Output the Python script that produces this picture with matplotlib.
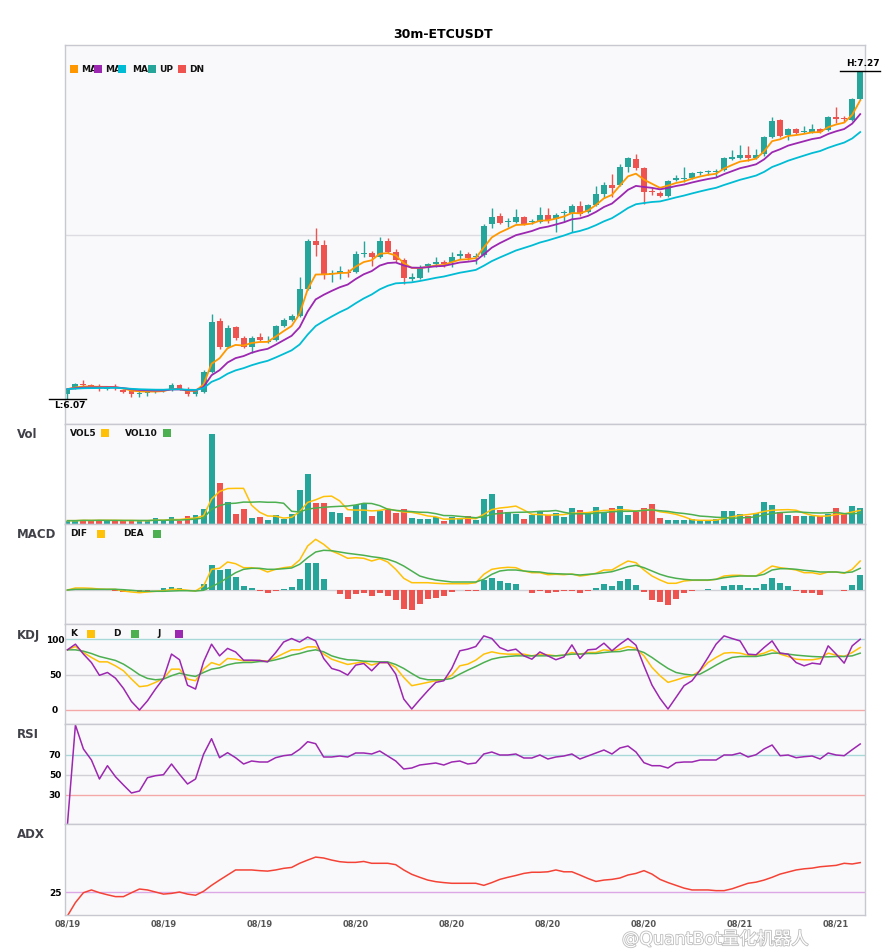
import matplotlib
matplotlib.use("Agg")
import matplotlib.pyplot as plt
import matplotlib.patheffects as pe
import numpy as np
import pandas as pd
from matplotlib.patches import Rectangle
from matplotlib.transforms import Bbox, TransformedBbox

W, H = 885, 950

symbol = "30m-ETCUSDT"
tick_labels = ["08/19", "08/19", "08/19", "08/20", "08/20", "08/20", "08/20", "08/21", "08/21"]

opens = [6.085, 6.108, 6.122, 6.118, 6.112, 6.102, 6.110, 6.099, 6.096, 6.086,
         6.087, 6.093, 6.098, 6.099, 6.118, 6.099, 6.084, 6.093, 6.167, 6.353,
         6.258, 6.329, 6.291, 6.256, 6.295, 6.276, 6.283, 6.335, 6.356, 6.372,
         6.470, 6.646, 6.632, 6.527, 6.528, 6.532, 6.531, 6.600, 6.603, 6.589,
         6.647, 6.605, 6.576, 6.510, 6.511, 6.557, 6.562, 6.570, 6.568, 6.594,
         6.598, 6.586, 6.595, 6.707, 6.738, 6.716, 6.717, 6.733, 6.716, 6.717,
         6.742, 6.726, 6.749, 6.750, 6.775, 6.754, 6.778, 6.819, 6.852, 6.852,
         6.919, 6.947, 6.913, 6.828, 6.823, 6.811, 6.870, 6.876, 6.876, 6.896,
         6.899, 6.899, 6.907, 6.949, 6.950, 6.962, 6.950, 6.964, 7.027, 7.090,
         7.035, 7.056, 7.046, 7.044, 7.056, 7.054, 7.100, 7.096, 7.090, 7.166]
highs = [6.107, 6.125, 6.136, 6.121, 6.121, 6.114, 6.120, 6.103, 6.099, 6.099,
         6.099, 6.099, 6.103, 6.125, 6.121, 6.109, 6.098, 6.173, 6.378, 6.362,
         6.338, 6.334, 6.298, 6.298, 6.307, 6.298, 6.338, 6.364, 6.378, 6.513,
         6.654, 6.695, 6.650, 6.540, 6.554, 6.542, 6.609, 6.647, 6.609, 6.662,
         6.657, 6.617, 6.584, 6.530, 6.558, 6.564, 6.586, 6.576, 6.605, 6.613,
         6.604, 6.601, 6.709, 6.766, 6.748, 6.730, 6.763, 6.738, 6.727, 6.772,
         6.766, 6.749, 6.760, 6.782, 6.793, 6.782, 6.848, 6.864, 6.892, 6.929,
         6.953, 6.965, 6.918, 6.840, 6.830, 6.870, 6.888, 6.919, 6.901, 6.904,
         6.907, 6.909, 6.953, 6.980, 6.999, 6.995, 6.983, 7.032, 7.102, 7.094,
         7.061, 7.059, 7.068, 7.076, 7.061, 7.105, 7.137, 7.105, 7.171, 7.270]
lows = [6.068, 6.103, 6.114, 6.107, 6.097, 6.099, 6.099, 6.090, 6.073, 6.073,
        6.077, 6.088, 6.092, 6.096, 6.099, 6.077, 6.077, 6.088, 6.162, 6.250,
        6.253, 6.283, 6.252, 6.236, 6.279, 6.271, 6.279, 6.331, 6.353, 6.367,
        6.466, 6.592, 6.507, 6.497, 6.506, 6.515, 6.529, 6.589, 6.554, 6.584,
        6.602, 6.570, 6.487, 6.499, 6.507, 6.534, 6.552, 6.552, 6.552, 6.580,
        6.578, 6.562, 6.587, 6.693, 6.707, 6.696, 6.711, 6.705, 6.709, 6.711,
        6.711, 6.680, 6.717, 6.680, 6.738, 6.749, 6.775, 6.803, 6.809, 6.848,
        6.901, 6.907, 6.782, 6.815, 6.808, 6.808, 6.866, 6.864, 6.874, 6.888,
        6.888, 6.882, 6.903, 6.943, 6.947, 6.941, 6.947, 6.958, 7.024, 7.029,
        7.017, 7.039, 7.043, 7.043, 7.044, 7.050, 7.078, 7.084, 7.087, 7.164]
closes = [6.103, 6.121, 6.120, 6.111, 6.110, 6.111, 6.109, 6.093, 6.084, 6.088,
          6.093, 6.094, 6.099, 6.118, 6.103, 6.084, 6.095, 6.167, 6.349, 6.256,
          6.327, 6.289, 6.258, 6.291, 6.283, 6.277, 6.334, 6.356, 6.372, 6.470,
          6.647, 6.632, 6.525, 6.528, 6.536, 6.531, 6.598, 6.602, 6.589, 6.647,
          6.607, 6.576, 6.509, 6.512, 6.546, 6.559, 6.568, 6.561, 6.589, 6.596,
          6.583, 6.591, 6.701, 6.733, 6.713, 6.718, 6.733, 6.709, 6.718, 6.742,
          6.723, 6.742, 6.751, 6.775, 6.745, 6.778, 6.819, 6.852, 6.840, 6.919,
          6.950, 6.913, 6.827, 6.826, 6.811, 6.866, 6.878, 6.877, 6.895, 6.898,
          6.901, 6.901, 6.950, 6.951, 6.962, 6.950, 6.962, 7.027, 7.088, 7.033,
          7.056, 7.041, 7.048, 7.056, 7.047, 7.100, 7.093, 7.094, 7.166, 7.268]
volumes = [3.3, 3.3, 4.2, 3.3, 4.2, 3.3, 3.3, 3.3, 3.3, 3.3,
           3.3, 5.6, 3.3, 6.5, 3.3, 7.8, 8.5, 14.4, 88.9, 40.8,
           22.2, 9.5, 14.4, 5.6, 6.5, 3.6, 8.5, 4.9, 9.5, 34.0,
           49.7, 21.2, 21.2, 11.4, 10.5, 6.5, 19.0, 21.2, 7.5, 12.7,
           14.4, 10.5, 14.4, 5.6, 4.6, 4.6, 6.5, 2.6, 6.5, 5.6,
           7.5, 3.9, 24.2, 30.0, 13.4, 11.4, 9.5, 4.6, 8.8, 12.4,
           8.5, 10.5, 6.5, 15.4, 13.4, 10.5, 16.3, 11.4, 15.4, 17.3,
           8.5, 11.4, 15.4, 19.3, 5.6, 3.6, 3.6, 3.6, 4.6, 2.6,
           3.6, 4.6, 12.4, 12.4, 9.5, 7.5, 10.5, 22.2, 18.3, 11.4,
           8.5, 7.5, 7.5, 7.5, 7.5, 9.5, 15.4, 9.5, 17.3, 15.4]

# MACD values in units of 1e-3
dif = [0, 2, 2, 1.7, 1, 0.7, 0.7, -1, -2, -2.7,
       -2, -1.3, -0.7, 0.7, 0.7, -0.3, -1, 4, 20.7, 21.7,
       28, 26.3, 22.3, 22.3, 21.3, 18, 20.7, 22.3, 23.3, 30,
       44, 50.7, 45.7, 39, 35.7, 31.7, 32.3, 31.7, 29, 31.3,
       28, 20.7, 11.7, 7.3, 7.3, 7.3, 6.7, 6.3, 6.3, 6.3,
       6.3, 7.3, 15.7, 20.7, 22, 22.7, 22.3, 19, 17.3, 17.3,
       15.3, 15.7, 15.3, 16, 14, 15, 16.7, 20, 20, 24.7,
       29, 27.3, 20, 14, 10, 6.7, 6.7, 9, 9.7, 9.7,
       9.7, 10.7, 14, 14.7, 14.7, 14, 14, 19, 24, 22.3,
       21.3, 20, 17.3, 17.3, 15.7, 18, 18, 16.7, 20.7, 29]
dea = [0, 0.7, 0.7, 0.7, 0.7, 0.7, 0.7, 0.3, -0.3, -1,
       -1.3, -1.3, -1.3, -1, -0.7, -0.7, -1, -0.3, 3.3, 7.3,
       12.3, 17.3, 20.7, 21.7, 21.7, 20.7, 20.7, 21.3, 22, 25.7,
       32.3, 38, 39.7, 39.3, 38, 36.7, 35.7, 34.7, 33.3, 32.3,
       30.7, 28, 24, 19, 14, 11.7, 10, 9, 8, 8,
       8, 8, 10.7, 15.7, 19, 20, 20, 19, 18.3, 18,
       16.7, 16.3, 16, 15.7, 15, 15.7, 16.3, 17.3, 18.3, 20.7,
       23.3, 24.7, 22.3, 19, 15.7, 13.3, 11.7, 10.7, 10, 10,
       10, 10.7, 12.3, 13.3, 14, 14, 14, 15.7, 20, 21.3,
       21.3, 20.7, 19.7, 19, 18, 18, 18, 17.3, 18, 21.7]
macd_hist = [0, 0.5, 0.3, 0.2, 0, -0.3, -0.7, -2, -1.3, -2.7,
             -1.3, 0, 1.7, 3, 2, 0, -0.7, 6, 25, 20.3,
             21.3, 13, 4, 2, -1, -3, -1, 1.3, 2.7, 11,
             27, 27, 11, 0, -4.3, -8.7, -4, -3.3, -5.7, -3,
             -6, -10, -18.7, -19.7, -14.3, -9, -7.7, -5.7, -1.7, 0,
             -0.5, -1, 10.3, 12, 9, 7, 5.7, 0.5, -2.7, -1,
             -3.3, -2.3, -1.3, -1, -2.7, -1, 1.7, 6.3, 4, 9,
             11, 5, -2.3, -10, -12, -15, -8.7, -2.7, -1.3, 0,
             1, 0, 4, 5, 5, 2.3, 1.7, 6, 12, 7,
             4, -0.7, -2.7, -2.7, -5, 0, 0, -0.7, 5, 15]

k_line = [85, 89.7, 81.2, 74.2, 68, 68, 62.4, 55.4, 43.7, 32.9,
          34.3, 39, 44.6, 57.7, 57.7, 43.7, 41.3, 57.7, 67, 63.4,
          72.8, 71.8, 69.5, 69.5, 70, 69, 74.2, 79.8, 85, 85,
          89.2, 89.2, 78.9, 71.8, 68, 64.3, 66.2, 68, 63.4, 67,
          67, 60.1, 46, 34.3, 36.6, 39, 41.3, 42.7, 49.3, 62.4,
          64.8, 70.4, 78.9, 82.2, 79.8, 78.9, 78.9, 78.9, 76.5, 78.9,
          78, 76.5, 77.5, 81.2, 78.9, 81.2, 81.2, 85, 83.6, 85.9,
          89.7, 86.9, 76.5, 60.1, 48.4, 39, 42.3, 46, 48.4, 55.4,
          67, 74.2, 80.3, 81.2, 80.3, 77.5, 77.5, 80.3, 85, 78.9,
          75.6, 71.8, 70.9, 70.9, 72.8, 80.3, 77.5, 75.6, 81.2, 88.3]
d_line = [85, 85, 83.1, 79.8, 75.6, 72.8, 70, 64.8, 57.7, 49.8,
          44.6, 42.7, 43.7, 48.4, 52.1, 49.3, 47.4, 53, 57.7, 59.6,
          63.8, 66.2, 67.1, 67.1, 68.5, 68.5, 70.9, 73.7, 77.5, 79.8,
          83.1, 85, 82.2, 76.5, 73.2, 70.9, 70.4, 69, 68.5, 68,
          68, 64.3, 58.7, 51.6, 45.1, 42.7, 42.7, 42.7, 44.6, 50.7,
          56.3, 61.5, 67.1, 71.8, 74.2, 75.6, 76.5, 76.5, 76.5, 76.5,
          76.5, 76.5, 77.5, 78.9, 78.9, 79.8, 79.8, 81.2, 82.2, 82.6,
          85, 85, 81.2, 74.2, 66.2, 58.7, 53, 50.7, 49.3, 50.7,
          56.8, 63.4, 69.5, 74.2, 75.6, 75.6, 75.6, 77.5, 80.3, 80.3,
          78.9, 77.5, 76.5, 75.6, 75.1, 75.1, 75.6, 75.6, 76.5, 80.3]
j_line = [85, 93, 79, 67, 49, 53, 45, 30.5, 12, 0,
          13, 29.6, 44.6, 79, 71, 35, 29.6, 68, 93, 76.5,
          87, 82, 70.4, 70.4, 70, 68, 81, 96, 101, 96,
          103, 97.6, 72.8, 58.7, 55.4, 49.3, 63.4, 65.7, 55.4, 67,
          67, 50.7, 15.5, 1.4, 14.6, 27.2, 39, 41.3, 58.7, 83.6,
          86, 89.7, 104.7, 101, 88.3, 83.6, 86, 76.5, 71.8, 82,
          76.5, 71, 75, 92, 72.8, 85, 86, 94.4, 83.6, 93,
          101, 91.5, 62.4, 35.2, 16.4, 1.4, 17.8, 34.3, 41.3, 56.3,
          74.2, 93, 104.7, 101, 97.6, 78.9, 78, 88.3, 97.6, 80.3,
          78.9, 67, 62.4, 66.2, 64.8, 90.6, 78.9, 66.2, 90.6, 100]
rsi = [0, 100, 76, 65, 46, 59.3, 48.3, 40, 32, 34,
       47.3, 49.3, 50.3, 61, 50.7, 41, 46, 70.7, 86.3, 67.3,
       72.3, 67.3, 61, 64, 63, 63, 67.3, 69.3, 70.3, 75.7,
       83.3, 81.3, 68, 68, 69, 68, 72, 72, 71, 74,
       69, 64, 56, 57, 60, 61, 62, 60, 63, 64,
       61, 62, 71, 73, 70, 70, 71, 67, 67, 70,
       66, 68, 69, 71, 66, 69, 72, 75, 71, 77,
       79, 73, 62.3, 59.3, 59.3, 57, 62.3, 63, 63, 65,
       65, 65, 70, 70, 72, 68, 70.3, 76, 80, 69.3,
       70, 67.3, 68.3, 69, 66, 72, 70, 69.3, 75.3, 81]
adx = [14.6, 20.4, 24.7, 25.9, 24.7, 23.8, 23, 23, 24.7, 26.3,
       25.9, 25, 24.1, 24.4, 25, 24.1, 23.6, 25.3, 27.9, 30.2,
       32.4, 34.6, 34.6, 34.6, 34.3, 34.1, 34.6, 35.3, 35.7, 37.5,
       38.9, 40.2, 39.8, 38.9, 38.2, 37.9, 37.9, 38.3, 37.5, 37.5,
       37.5, 36.9, 34.6, 32.7, 31.4, 30.2, 29.5, 29.1, 28.8, 28.8,
       28.8, 28.8, 27.9, 29.1, 30.5, 31.4, 32.2, 33.1, 33.6, 33.6,
       33.8, 34.6, 33.8, 33.8, 32.4, 30.9, 29.6, 30.2, 30.5, 31.1,
       32.4, 33.1, 34.3, 32.8, 30.5, 29.1, 27.9, 26.7, 25.9, 25.9,
       25.9, 25.6, 25.6, 26.4, 27.6, 28.8, 29.3, 30.2, 31.4, 32.8,
       33.7, 34.6, 35.1, 35.4, 36, 36.3, 36.6, 37.5, 37.2, 37.8]

UP = "#26a69a"
DN = "#ef5350"
BG = "#f9f9fb"
EDGE = "#c8c8d0"
YELLOW = "#ffc107"
GREEN = "#4caf50"
PURPLE = "#9c27b0"

df = pd.DataFrame({"open": opens, "high": highs, "low": lows, "close": closes, "vol": volumes})
n = len(df)
x = np.arange(n)
up = df["close"] >= df["open"]
colors = np.where(up, UP, DN)

fig = plt.figure(figsize=(W / 100, H / 100), dpi=100)


def box(top, bottom):
    return [65 / W, 1 - bottom / H, 800 / W, (bottom - top) / H]


def panel(top, bottom):
    ax = fig.add_axes(box(top, bottom))
    ax.set_facecolor(BG)
    for sp in ax.spines.values():
        sp.set_color(EDGE)
        sp.set_linewidth(1)
    ax.set_xlim(-0.3, n - 0.4)
    ax.set_xticks([])
    ax.set_yticks([])
    return ax


def y_ticks(ax, vals):
    ax.set_yticks(vals, [str(v) for v in vals])
    ax.tick_params(axis="y", length=0, pad=7.2, labelsize=6.5)
    for lbl in ax.get_yticklabels():
        lbl.set_ha("center")
        lbl.set_fontweight("bold")


def fig_text(px, py, s, size=6.5, clip_right=None, **kw):
    t = fig.text(px / W, 1 - py / H, s, ha="left", va="center", fontsize=size,
                 fontweight="bold", color=kw.pop("color", "#111111"), **kw)
    if clip_right is not None:
        t.set_clip_box(TransformedBbox(Bbox.from_extents(px / W, 0, clip_right / W, 1), fig.transFigure))
        t.set_clip_on(True)
    return t


def fig_square(px, py_top, color, size=8):
    fig.add_artist(Rectangle((px / W, 1 - (py_top + size) / H), size / W, size / H,
                             transform=fig.transFigure, facecolor=color, edgecolor="none", zorder=4))


# ---- candles ----
ax = panel(45, 424)
ax.set_ylim(5.975, 7.365)
ax.axhline(sum(ax.get_ylim()) / 2, color="#dcdce2", lw=1, zorder=0)
body_lo = np.minimum(df["open"], df["close"]).to_numpy()
body_hi = np.maximum(df["open"], df["close"]).to_numpy()
mid = (body_lo + body_hi) / 2
thin = (body_hi - body_lo) < 0.005
body_lo = np.where(thin, mid - 0.0025, body_lo)
body_hi = np.where(thin, mid + 0.0025, body_hi)
ax.vlines(x, df["low"], df["high"], colors=colors, lw=1, zorder=2)
ax.bar(x, body_hi - body_lo, bottom=body_lo, width=0.74, color=colors, zorder=2)

for span, col in [(5, "#ff9800"), (10, PURPLE), (20, "#00bcd4")]:
    ax.plot(x, df["close"].ewm(span=span, adjust=False).mean(), color=col, lw=1.3, zorder=3)

ih = int(df["high"].idxmax())
il = int(df["low"].idxmin())
hv, lv = df["high"][ih], df["low"][il]
ax.plot([ih - 2.5, ih + 2.5], [hv, hv], color="black", lw=1, clip_on=False, zorder=5)
ax.text(ih + 0.4, hv + 0.012, f"H:{hv:.2f}", ha="center", va="bottom", fontsize=6.5,
        fontweight="bold", clip_on=False)
ax.plot([il - 2.3, il + 2.3], [lv, lv], color="black", lw=1, clip_on=False, zorder=5)
ax.text(il + 0.3, lv - 0.01, f"L:{lv:.2f}", ha="center", va="top", fontsize=6.5,
        fontweight="bold", clip_on=False)

legend_items = [(70, "#ff9800", "MA5", 81), (94.3, PURPLE, "MA10", 105),
                (118.3, "#00bcd4", "MA20", 131.7), (148, UP, "UP", 159), (178, DN, "DN", 189)]
for i, (sx, col, lab, tx) in enumerate(legend_items):
    fig_square(sx, 65, col)
    nxt = legend_items[i + 1][0] if i + 1 < len(legend_items) else None
    fig_text(tx, 69, lab, clip_right=nxt)

fig.text(0.5, 1 - 34 / H, symbol, ha="center", va="center", fontsize=9, fontweight="bold")

# ---- volume ----
axv = panel(424, 524)
axv.bar(x, df["vol"], width=0.74, color=colors)
axv.plot(x, df["vol"].rolling(5, min_periods=1).mean(), color=YELLOW, lw=1.1)
axv.plot(x, df["vol"].rolling(10, min_periods=1).mean(), color=GREEN, lw=1.1)
axv.set_ylim(0, df["vol"].max() * 1.11)
fig_text(70, 433, "VOL5")
fig_square(101, 429, YELLOW)
fig_text(125, 433, "VOL10")
fig_square(163, 429, GREEN)

# ---- MACD ----
axm = panel(524, 624)
hist = np.array(macd_hist)
axm.axhline(0, color="#d0d0d6", lw=1, zorder=0)
axm.bar(x, hist, width=0.74, color=np.where(hist >= 0, UP, DN), zorder=2)
axm.plot(x, dif, color=YELLOW, lw=1.1, zorder=3)
axm.plot(x, dea, color=GREEN, lw=1.1, zorder=3)
axm.set_ylim(-34, 66)
fig_text(70, 533.5, "DIF")
fig_square(97, 529.5, YELLOW)
fig_text(123, 533.5, "DEA")
fig_square(153, 529.5, GREEN)

# ---- KDJ ----
axk = panel(624, 724)
for lvl, col in [(100, "#a8d8d8"), (50, "#d0d0d6"), (0, "#f4a8a8")]:
    axk.axhline(lvl, color=col, lw=1, zorder=0)
axk.plot(x, k_line, color=YELLOW, lw=1.1)
axk.plot(x, d_line, color=GREEN, lw=1.1)
axk.plot(x, j_line, color=PURPLE, lw=1.1)
axk.set_ylim(-19.8, 121.5)
y_ticks(axk, [0, 50, 100])
fig_text(70, 633.8, "K")
fig_square(87, 629.8, YELLOW)
fig_text(113, 633.8, "D")
fig_square(131, 629.8, GREEN)
fig_text(157, 633.8, "J")
fig_square(175, 629.8, PURPLE)

# ---- RSI ----
axr = panel(724, 824)
for lvl, col in [(70, "#a8d8d8"), (50, "#d0d0d6"), (30, "#f4a8a8")]:
    axr.axhline(lvl, color=col, lw=1, zorder=0)
axr.plot(x, rsi, color=PURPLE, lw=1.1)
axr.set_ylim(1, 101)
y_ticks(axr, [30, 50, 70])

# ---- ADX ----
axa = panel(824, 915)
axa.axhline(25, color="#dca8e6", lw=1, zorder=0)
axa.plot(x, adx, color="#f44336", lw=1.1)
axa.set_ylim(15, 54.6)
y_ticks(axa, [25])
axa.set_xticks(np.arange(0, n, 12), tick_labels)
axa.tick_params(axis="x", length=0, pad=3, labelsize=6, labelcolor="#555555")
for lbl in axa.get_xticklabels():
    lbl.set_fontweight("bold")

for label, py in [("Vol", 435), ("MACD", 535), ("KDJ", 635), ("RSI", 735), ("ADX", 835)]:
    fig_text(17, py, label, size=8.5, color="#404048")

# source watermark, kept just below the date labels
fig.text(622 / W, 1 - 939 / H, "@QuantBot量化机器人", ha="left", va="center", fontsize=12.5,
         color="white", family=["DejaVu Sans", "Noto Sans CJK SC"],
         path_effects=[pe.withStroke(linewidth=1.2, foreground="#bdbdbd")], zorder=10)

fig.savefig("out.png", dpi=100, facecolor="white")
